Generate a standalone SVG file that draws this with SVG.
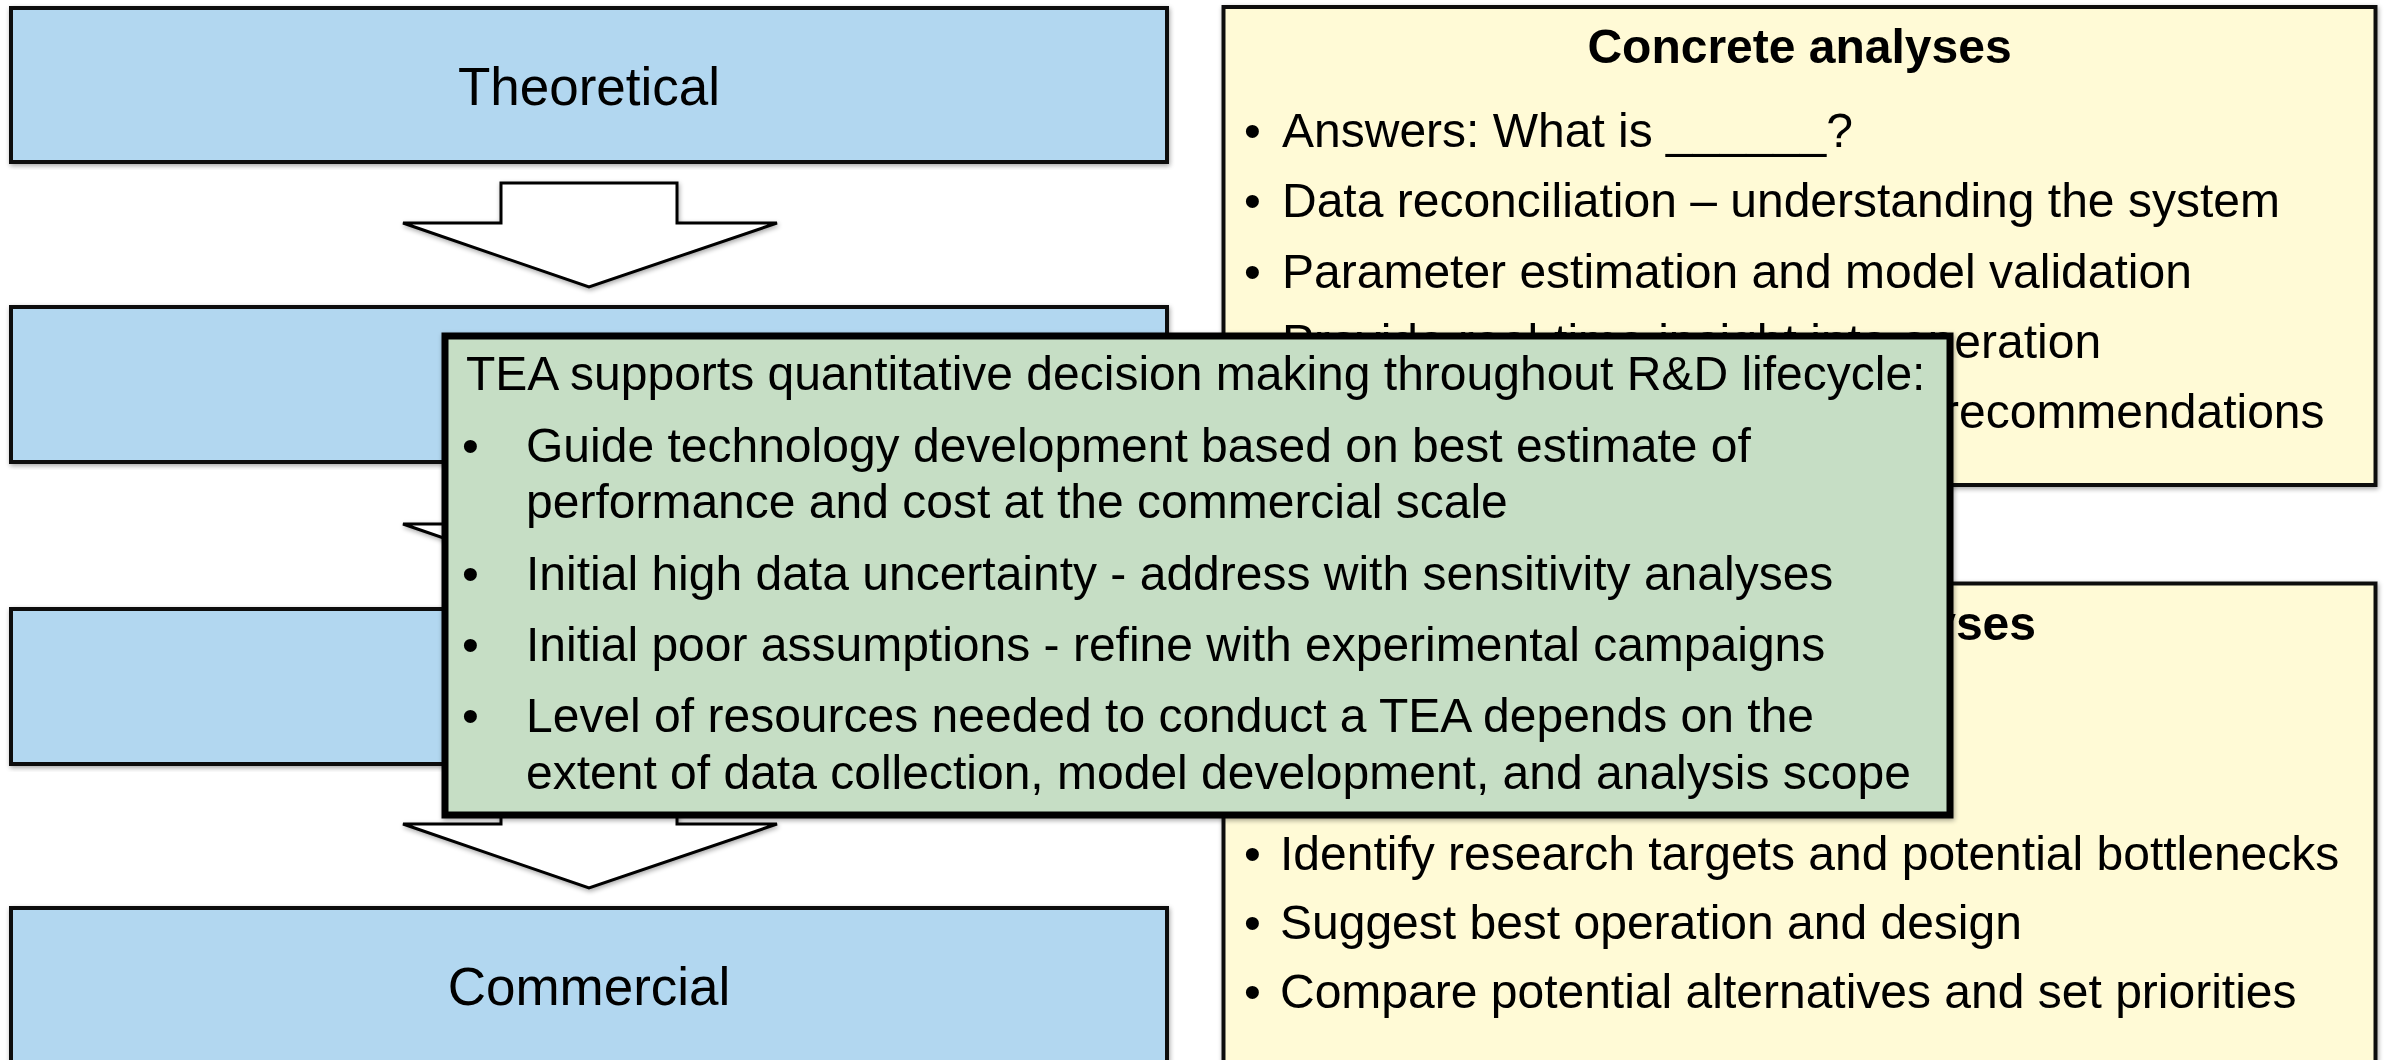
<svg xmlns="http://www.w3.org/2000/svg" width="2386" height="1060" viewBox="0 0 2386 1060">
  <defs>
    <filter id="soft-shadow" x="-5%" y="-5%" width="110%" height="110%">
      <feGaussianBlur in="SourceAlpha" stdDeviation="2.5"/>
      <feOffset dx="1" dy="2" result="blur"/>
      <feComponentTransfer><feFuncA type="linear" slope="0.35"/></feComponentTransfer>
      <feMerge><feMergeNode/><feMergeNode in="SourceGraphic"/></feMerge>
    </filter>
  </defs>
  <style>
    .stage { fill: #B2D7F0; stroke: #111; stroke-width: 4; }
    .panel { fill: #FFFAD6; stroke: #111; stroke-width: 4; }
    .note { fill: #C6DEC5; stroke: #000; stroke-width: 7; }
    .flow { fill: #FFFFFF; stroke: #000; stroke-width: 3; stroke-linejoin: miter; }
    .stage-label { font-family: "Liberation Sans", Arial, sans-serif; font-size: 53px; fill: #000; text-anchor: middle; }
    .panel-title { font-family: "Liberation Sans", Arial, sans-serif; font-size: 48px; font-weight: bold; fill: #000; }
    .body { font-family: "Liberation Sans", Arial, sans-serif; font-size: 48px; fill: #000; }
  </style>

  <rect width="2386" height="1060" fill="#FFFFFF"/>

  <!-- stage boxes on the left -->
  <g id="node-theoretical" filter="url(#soft-shadow)">
    <rect class="stage" x="11" y="8" width="1156" height="154"/>
    <text class="stage-label" x="589" y="105">Theoretical</text>
  </g>
  <g id="node-stage-2" filter="url(#soft-shadow)">
    <rect class="stage" x="11" y="307" width="1156" height="155"/>
  </g>
  <g id="node-stage-3" filter="url(#soft-shadow)">
    <rect class="stage" x="11" y="609" width="1156" height="155"/>
  </g>
  <g id="node-commercial" filter="url(#soft-shadow)">
    <rect class="stage" x="11" y="908" width="1156" height="200"/>
    <text class="stage-label" x="589" y="1005">Commercial</text>
  </g>

  <!-- block arrows between stages -->
  <g id="connectors" filter="url(#soft-shadow)">
    <path class="flow" d="M501,183 H677 V223 H777 L589,287 L403,223 H501 Z"/>
    <path class="flow" d="M501,484 H677 V524 H777 L589,588 L403,524 H501 Z"/>
    <path class="flow" d="M501,784 H677 V824 H777 L589,888 L403,824 H501 Z"/>
  </g>

  <!-- analysis panels on the right -->
  <g id="node-concrete-analyses" filter="url(#soft-shadow)">
    <rect class="panel" x="1223.5" y="7" width="1152" height="478"/>
    <text class="panel-title" x="1799.5" y="63" text-anchor="middle">Concrete analyses</text>
    <g class="body">
      <text x="1244" y="147">•</text><text x="1282" y="147">Answers: What is ______?</text>
      <text x="1244" y="217">•</text><text x="1282" y="217">Data reconciliation – understanding the system</text>
      <text x="1244" y="288">•</text><text x="1282" y="288">Parameter estimation and model validation</text>
      <text x="1244" y="358">•</text><text x="1282" y="358">Provide real-time insight into operation</text>
      <text x="1943" y="428">recommendations</text>
    </g>
  </g>

  <g id="node-second-analyses" filter="url(#soft-shadow)">
    <rect class="panel" x="1223.5" y="583.5" width="1152" height="520"/>
    <text class="panel-title" x="2036" y="640" text-anchor="end">yses</text>
    <g class="body">
      <text x="1244" y="870">•</text><text x="1280" y="870">Identify research targets and potential bottlenecks</text>
      <text x="1244" y="939">•</text><text x="1280" y="939">Suggest best operation and design</text>
      <text x="1244" y="1008">•</text><text x="1280" y="1008">Compare potential alternatives and set priorities</text>
    </g>
  </g>

  <!-- overlay note -->
  <g id="node-tea-note" filter="url(#soft-shadow)">
    <rect class="note" x="445" y="336" width="1505" height="479"/>
    <g class="body">
      <text x="466" y="390">TEA supports quantitative decision making throughout R&amp;D lifecycle:</text>
      <text x="462" y="462">•</text><text x="526" y="462">Guide technology development based on best estimate of</text>
      <text x="526" y="518">performance and cost at the commercial scale</text>
      <text x="462" y="590">•</text><text x="526" y="590">Initial high data uncertainty - address with sensitivity analyses</text>
      <text x="462" y="661">•</text><text x="526" y="661">Initial poor assumptions - refine with experimental campaigns</text>
      <text x="462" y="732">•</text><text x="526" y="732">Level of resources needed to conduct a TEA depends on the</text>
      <text x="526" y="789">extent of data collection, model development, and analysis scope</text>
    </g>
  </g>
</svg>
